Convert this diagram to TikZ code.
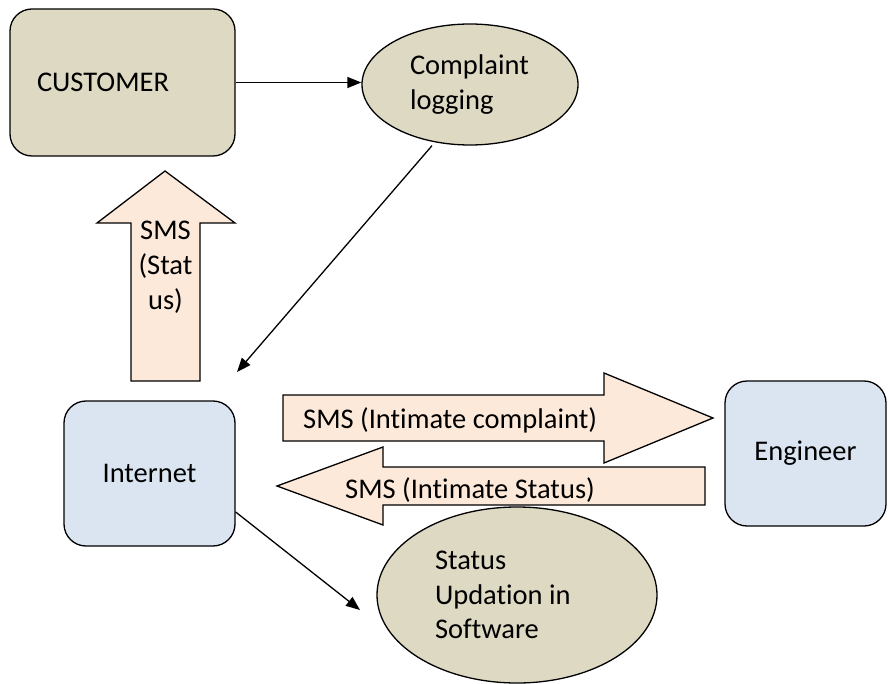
\documentclass[tikz,border=0pt]{standalone}
\usepackage{fontspec}
\setmainfont{Carlito}[Ligatures=CommonOff]
\usetikzlibrary{arrows.meta,shapes.geometric}
\definecolor{tanfill}{HTML}{DDD9C3}
\definecolor{paleblue}{HTML}{DBE5F1}
\definecolor{peach}{HTML}{FDE9D9}
\begin{document}
\begin{tikzpicture}[x=1pt,y=-1pt,
  box/.style={draw=black,line width=1.3pt,rounded corners=22pt,inner sep=0pt},
  oval/.style={draw=black,line width=1.3pt,ellipse,inner sep=0pt,fill=tanfill,align=flush left},
  txt/.style={font=\fontsize{28.5}{34.8}\selectfont},
  blockarrow/.style={draw=black,line width=1.3pt,fill=peach,line join=miter},
  conn/.style={line width=1.3pt,-{Triangle[length=14pt,width=11pt]}}]
\useasboundingbox[fill=white] (0,0) rectangle (888,684);
% boxes
\node[box,fill=tanfill,minimum width=225pt,minimum height=147pt,text width=171pt,align=flush left,txt] (cust) at (122.5,82.5) {CUSTOMER};
\node[oval,minimum width=216pt,minimum height=121pt,text width=120pt,txt] (comp) at (470,84.5) {Complaint\\logging};
\node[box,fill=paleblue,minimum width=171pt,minimum height=145pt,txt] (inet) at (149.5,473.5) {Internet};
\node[box,fill=paleblue,minimum width=161pt,minimum height=145pt,txt] (eng) at (805.5,453.5) {Engineer};
\node[oval,minimum width=280pt,minimum height=176pt,text width=164pt,txt] (stat) at (517,595) {Status\\Updation in\\Software};
% block arrows
\draw[blockarrow] (165,171) -- (235,223) -- (200,223) -- (200,381) -- (131,381) -- (131,223) -- (97,223) -- cycle;
\node[txt,align=center,inner sep=0pt] (smsup) at (165.5,267) {SMS\\(Stat\\us)};
\draw[blockarrow] (283,395) -- (604,395) -- (604,373) -- (713,418) -- (604,463) -- (604,441) -- (283,441) -- cycle;
\node[txt,anchor=base west,inner sep=0pt] (smsr) at (303,428) {SMS (Intimate complaint)};
\draw[blockarrow] (277,486) -- (383,447) -- (383,467) -- (705,467) -- (705,505) -- (383,505) -- (383,525) -- cycle;
\node[txt,anchor=base west,inner sep=0pt] (smsl) at (345,498) {SMS (Intimate Status)};
% connectors
\draw[conn] (cust.east) -- (cust.east -| comp.west);
\coordinate (p1) at (237,372);
\draw[conn] ([xshift=-38pt]comp.south) -- (p1);
\coordinate (p2) at (360,610);
\draw[conn] ([yshift=-38.5pt]inet.east) -- (p2);
\end{tikzpicture}
\end{document}
